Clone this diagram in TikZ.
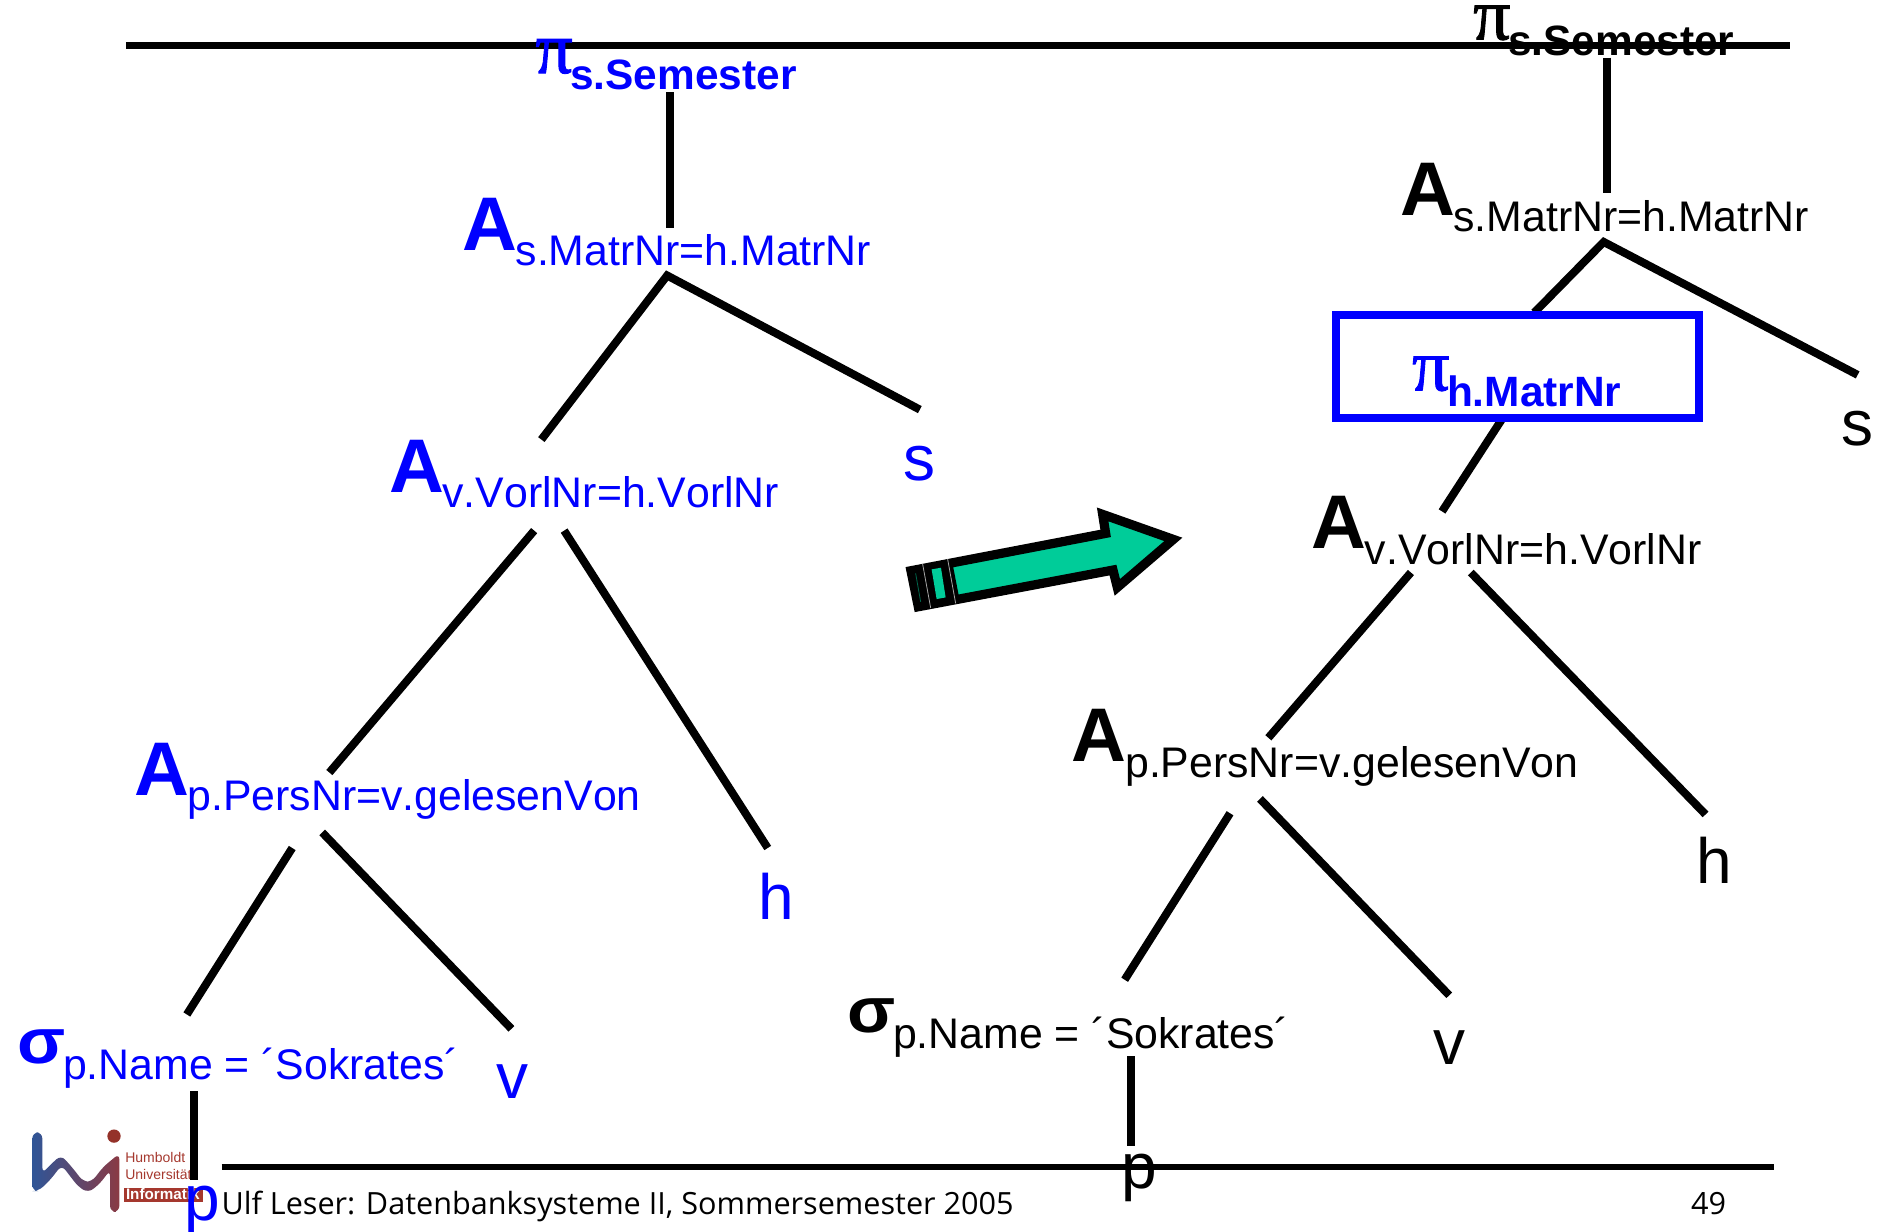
\documentclass[tikz,border=0pt]{standalone}
\usepackage{graphicx}
\usepackage{fontspec}
\setmainfont[Kerning=Off]{Liberation Sans}
\newfontfamily\pifont[FakeBold=1.2]{Liberation Serif}
\newfontfamily\footfont{Open Sans}
\definecolor{arrowgreen}{HTML}{00CC99}
\definecolor{logored}{HTML}{A5382E}
\definecolor{logodark}{HTML}{8A3A44}
\definecolor{logoblue}{HTML}{2F5597}
\newcommand{\fsz}[1]{\fontsize{#1}{#1}\selectfont}
\newcommand{\Alab}[1]{{\fsz{38}\bfseries A}\kern-0.8pt\raisebox{-7.8pt}{\fsz{21.4}#1}}
\newcommand{\Slab}[1]{\scalebox{1.1}[1]{\fsz{32}\bfseries σ}\kern-1.5pt\raisebox{-7.8pt}{\fsz{21.4}#1}}
\newcommand{\Plab}[1]{{\fsz{37}\pifont π}\kern-1.2pt\raisebox{-8.2pt}{\fsz{21.2}\bfseries #1}}
\tikzset{
  lab/.style={inner sep=0pt,outer sep=0pt,anchor=base west},
  leaf/.style={inner sep=0pt,outer sep=0pt,anchor=base,font=\fsz{32}},
  edge/.style={line width=4pt,black,line cap=butt},
  rule/.style={line width=3.2pt,black},
  foot/.style={inner sep=0pt,outer sep=0pt,anchor=base west,font=\footfont\fsz{15.3}},
  logotext/.style={inner sep=0pt,outer sep=0pt,anchor=base west,text=logored,font=\fsz{7}}
}
\begin{document}
\begin{tikzpicture}[x=0.5988pt,y=-0.5988pt]
\useasboundingbox (0,0) rectangle (1568,1028.6);
% logo
\begin{scope}[shift={(0,835)},x=0.16667pt,y=-0.16667pt]
  \shade[left color=logoblue,right color=logodark,rounded corners=3pt]
    (97,397)--(127,397)--(127,520)--(150,495)--(183,465)--(215,500)--(250,545)--(275,545)--(310,500)--(358,460)--(358,635)--(330,635)--(330,510)--(300,550)--(265,578)--(235,560)--(185,495)--(150,540)--(115,573)--(97,573)--cycle;
  \fill[logored!90!black] (342,408) circle (20);
  \node[logotext] (lhu) at (376,487) {Humboldt};
  \node[logotext] (lun) at (376,538) {Universität};
  \fill[logored] (372,563) rectangle (608,606);
  \node[logotext,text=white,font=\fsz{7.6}\bfseries] (lin) at (378,597) {Informatik};
\end{scope}
% rules
\coordinate (t1) at (105,38); \coordinate (t2) at (1494.5,38);
\coordinate (b1) at (185,974.5); \coordinate (b2) at (1481,974.5);
\draw[rule] (t1)--(t2);
\draw[rule] (b1)--(b2);
% left tree nodes
\node[lab,text=blue] (lpi) at (447,61) {\Plab{s.Semester}};
\node[lab,text=blue] (la1) at (386,209) {\Alab{s.MatrNr=h.MatrNr}};
\node[lab,text=blue] (la2) at (325,411) {\Alab{v.VorlNr=h.VorlNr}};
\node[lab,text=blue] (la3) at (112,664) {\Alab{p.PersNr=v.gelesenVon}};
\node[lab,text=blue] (lsg) at (15,888) {\Slab{p.Name = ´Sokrates´}};
\node[leaf,text=blue] (ls) at (768,401) {s};
\node[leaf,text=blue] (lh) at (648.5,768) {h};
\node[leaf,text=blue] (lv) at (427.5,917) {v};
% left tree connectors
\coordinate (e1a) at (559,77); \coordinate (e1b) at (559,190);
\coordinate (e2) at (557,230); \coordinate (e2a) at (452,367); \coordinate (e2b) at (768,342);
\coordinate (e3a) at (446,443); \coordinate (e3b) at (275,645);
\coordinate (e4a) at (471,443); \coordinate (e4b) at (641,708);
\coordinate (e5a) at (244,708); \coordinate (e5b) at (156,847);
\coordinate (e6a) at (269,695); \coordinate (e6b) at (427,859);
\coordinate (e7a) at (162,911); \coordinate (e7b) at (162,985);
\draw[edge] (e1a)--(e1b);
\draw[edge,line join=miter] (e2a)--(e2)--(e2b);
\draw[edge] (e3a)--(e3b);
\draw[edge] (e4a)--(e4b);
\draw[edge] (e5a)--(e5b);
\draw[edge] (e6a)--(e6b);
\draw[edge] (e7a)--(e7b);
\node[leaf,text=blue] (lp) at (169,1019) {p};
% right tree nodes
\node[lab] (rpi) at (1230,33) {\Plab{s.Semester}};
\node[lab] (ra1) at (1169,180) {\Alab{s.MatrNr=h.MatrNr}};
\node[lab] (ra2) at (1095,458) {\Alab{v.VorlNr=h.VorlNr}};
\node[lab] (ra3) at (895,636) {\Alab{p.PersNr=v.gelesenVon}};
\node[lab] (rsg) at (708,862) {\Slab{p.Name = ´Sokrates´}};
\node[leaf] (rs) at (1551,372) {s};
\node[leaf] (rh) at (1431,738) {h};
\node[leaf] (rv) at (1210.5,889) {v};
\node[leaf] (rp) at (951,992) {p};
% right tree connectors
\coordinate (f1a) at (1342,48); \coordinate (f1b) at (1342,161);
\coordinate (f2) at (1339,202); \coordinate (f2a) at (1281,261); \coordinate (f2b) at (1551,313);
\coordinate (f3a) at (1254,350); \coordinate (f3b) at (1204,427);
\coordinate (f4a) at (1178,478); \coordinate (f4b) at (1059,616);
\coordinate (f5a) at (1228,478); \coordinate (f5b) at (1424,680);
\coordinate (f6a) at (1027,679); \coordinate (f6b) at (939,818);
\coordinate (f7a) at (1052,667); \coordinate (f7b) at (1210,831);
\coordinate (f8a) at (944,882); \coordinate (f8b) at (944,957);
\draw[edge] (f1a)--(f1b);
\draw[edge,line join=miter] (f2a)--(f2)--(f2b);
\draw[edge] (f3a)--(f3b);
\draw[edge] (f4a)--(f4b);
\draw[edge] (f5a)--(f5b);
\draw[edge] (f6a)--(f6b);
\draw[edge] (f7a)--(f7b);
\draw[edge] (f8a)--(f8b);
% projection box
\draw[blue,line width=3.6pt] (1115.5,263) rectangle (1418.5,349);
\node[lab,text=blue] (rbx) at (1179,326) {\Plab{h.MatrNr}};
% big arrow
\begin{scope}[shift={(734.7,400.8)},x=0.16667pt,y=-0.16667pt]
  \draw[black,fill=arrowgreen,line width=4.6pt,miter limit=10]
    (93,272)--(677,160)--(668,103)--(880,178)--(712,322)--(699,270)--(115,380)--cycle;
  \fill[black] (93,272)--(217,247)--(238,355)--(115,380)--cycle;
  \fill[arrowgreen] (155,268)--(183,263)--(197,352)--(170,357)--cycle;
  \draw[gray!70,line width=0.4pt] (128,252)--(152,383);
  \draw[gray!70,line width=0.4pt] (203,237)--(227,370);
  \draw[arrowgreen!50!black,line width=0.4pt] (107,280)--(122,365);
\end{scope}
% footer
\node[foot] (ft) at (185,1014) {Ulf Leser: Datenbanksysteme II, Sommersemester 2005};
\node[foot] (pg) at (1412,1014) {49};
\end{tikzpicture}
\end{document}
